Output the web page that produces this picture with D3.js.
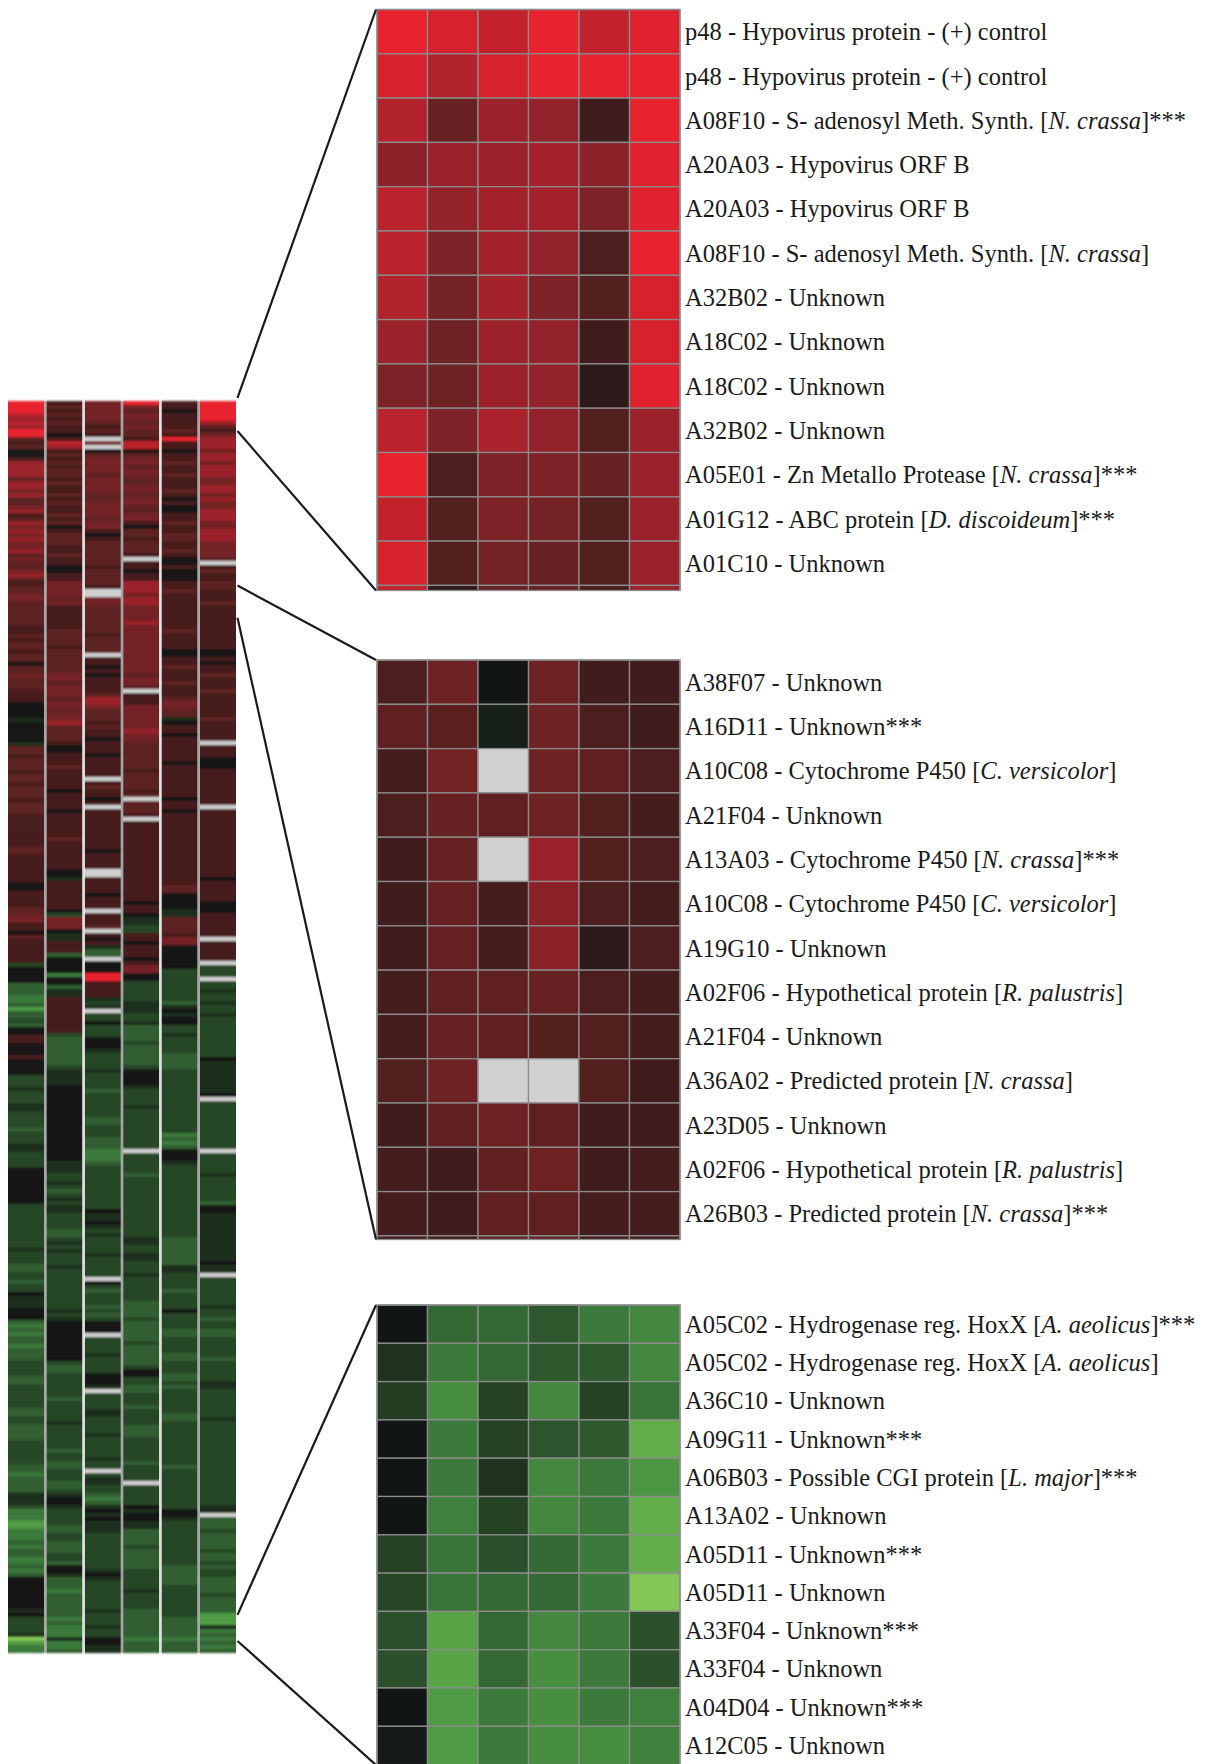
<!DOCTYPE html>
<html>
<head>
<meta charset="utf-8">
<script src="https://cdn.jsdelivr.net/npm/d3@7"></script>
<style>
  body { margin: 0; background: #ffffff; }
  svg { display: block; }
</style>
</head>
<body>
<script>
// ---------------------------------------------------------------------------
// Expression levels (log ratio). Overview columns are coded one character per
// clone: a..m map onto levelValues, "." marks a spot with no data.
// ---------------------------------------------------------------------------
const levelCodes  = "abcdefghijklm";
const levelValues = [-3, -2.5, -2, -1.5, -1, -0.5, 0, 0.9, 1.25, 1.6, 2.1, 2.5, 3];

const conditions = ["1", "2", "3", "4", "5", "6"];

const overviewCol1 = [
  "mmmlklkmmihigghkkkkikkjkiijkhikjkjkjjkijiijkihiijji",
  "iiiiihhihiihiigiijiiihhhggggfgggggfiihiiihiihiiihiiih",
  "hhhhhhhiihhhhhhhgghhhhiijjhhgihhhhhheggggdddccdbdded",
  "gghhggghggggeeefeeeffeeeedeeeffeeeegggggggggeeeeeeee",
  "eeefeeeddeedeegfffgggdcdcddcdddeeeeddeeeeeeddeedddde",
  "eeeeeddcddddfffecccbbcccdcddccdcdggggggggfgeeeefabcc"
];
const overviewCol2 = [
  "hihihihhghlkhihihiihihhihihhihighiiihhihhgghhjjjjij",
  "hhhhhhiiiihiiiiiijjijjjijjijjkiiiihgghhhihhhhhghhhhgh",
  "hhhhhihhhhhhhggfhhhhhhhgejjjgffhhhdggggcggdffhhhhhhh",
  "hheddddddde" + "ffffggggggggggggggggggg" + "fffeefedefeffeeeedd",
  "efefeeefeeeeeeeeeefefggggggggggeddeeeeeedeeeeefeeeee",
  "edeeddeeeddefggfeeeeddeedddeedggfdddcddddddcdcccfccd"
];
const overviewCol3 = [
  "jjjjjihih.j.gijjjjijjjjiijjjjijjhghiiiiiihiiiih..jj",
  "iiiiiiihiiii.hhghghhhhikkjiiihihhghhhghhhhh.hihhgh.hh",
  "hhhhhhhhghhhh..hhhhghhh.hhhi.hghfdd.gggmmhhhhfef.eeg",
  "eeegggfeeeefeeeedeeeeeeddeeedddcccdeeeeeeeeeeegffgfef",
  "eeeefeeeee.gedeeededeggg.eeeefeeeegggf.eeeeffeeeefee",
  "eeefee.effeedcdfgfgfffeeeeeeeeefgfeeeeeeefeeefeeggff"
];
const overviewCol4 = [
  "mjijjijiihllgijjijjiijjijjiijjhgiihiiih.hhghhkkkjkk",
  "jjjjkjjjjjjjjjjjjijji.hhhjjjjjjkjjiiiiiiihiiiihi.iiih",
  ".hhhhhhhhhhhhhhhhhhhhghhgffeehhghhhghjjggeeeeefffeef",
  "ddddeddddde" + "ggggfeeeefeeeeeeeeee.eeeeedeeeeeeeeeeeeeee",
  "ffeeffeeefeeeeeeddddedddddedddddeggeeddeeedeeeedddee",
  "eeeedeeee.eeeeegfggffddddeddddde" + "eeeefeeeedddddddcddd"
];
const overviewCol5 = [
  "hhghhhhihmhhghhihhihhhihghgghhihhiihhihgghggghhihhh",
  "hhhhhhihhhhgghhihhhihhhijjiifghhghhhhhhghhhhhhhhghhgh",
  "hhhhhhhhhhhhhhhhhiiggggffiiiihjjggggggeeeeeeeedfgfgg",
  "eefeeeeddddeeeeeeeeeeeeeeeecdcdgggfeeeeeeeeeeeeeeeeee",
  "ddddddd" + "ffeeeedeeeegeeeeddeeeeddeeeddedeeeeeeddeeeeee",
  "eeeeedeeeeeeeeeeggfeeeeeeeeeeedddddeeeeeeeedddddcddd"
];
const overviewCol6 = [
  "mmmmmkihjkkkjkkjkkkjjkkjkjjkkkjjkkkjjjji.hihhiihhhi",
  "hhhhhhhhhhhgghghhihhhihhhhhhihhhhh.hhhggghhhhhhhhh.hh",
  "hhhhhhhhhhhhhhhghhhhhggghhhhhh.hhhhh.eee.eefeefeefee",
  "eeeeeeeegffffffffg.eeeeeeeeeeee.eeeeefeeeeeedggffffff",
  "ffffffgff.eeeeeeefeedeeddeeeeedeeeeeffeeeeeeefeeeeee",
  "eeeeeeeeeeeeeeeff.dddeddddeddedeeddddeddddbbbfcdcdcd"
];

// ---------------------------------------------------------------------------
// Selected clones (rows) shown enlarged; null = no data.
// ---------------------------------------------------------------------------
const upregulatedLabels = [
  "p48 - Hypovirus protein - (+) control",
  "p48 - Hypovirus protein - (+) control",
  "A08F10 - S- adenosyl Meth. Synth. [_N. crassa_]***",
  "A20A03 - Hypovirus ORF B",
  "A20A03 - Hypovirus ORF B",
  "A08F10 - S- adenosyl Meth. Synth. [_N. crassa_]",
  "A32B02 - Unknown",
  "A18C02 - Unknown",
  "A18C02 - Unknown",
  "A32B02 - Unknown",
  "A05E01 - Zn Metallo Protease [_N. crassa_]***",
  "A01G12 - ABC protein [_D. discoideum_]***",
  "A01C10 - Unknown"
];
const upregulatedValues = [
  [3.0, 2.8, 2.6, 3.0, 2.6, 2.9],
  [2.8, 2.4, 2.8, 3.0, 3.0, 3.0],
  [2.4, 1.4, 2.1, 2.0, 0.8, 3.0],
  [1.9, 2.1, 2.1, 2.2, 1.9, 2.9],
  [2.5, 2.0, 2.2, 2.2, 1.7, 2.9],
  [2.5, 1.7, 2.2, 2.0, 1.0, 3.0],
  [2.4, 1.6, 2.2, 1.7, 1.1, 2.8],
  [2.1, 1.5, 2.1, 2.0, 0.8, 2.8],
  [1.7, 1.5, 2.1, 2.0, 0.5, 2.9],
  [2.5, 1.7, 2.3, 2.0, 1.1, 2.1],
  [3.0, 1.0, 1.7, 1.7, 1.4, 2.1],
  [2.6, 1.1, 1.7, 1.6, 1.1, 2.1],
  [2.8, 1.1, 1.6, 1.4, 1.1, 2.1],
  [2.6, 0.5, 1.4, 1.4, 1.0, 2.1]
];

const moderateLabels = [
  "A38F07 - Unknown",
  "A16D11 - Unknown***",
  "A10C08 - Cytochrome P450 [_C. versicolor_]",
  "A21F04 - Unknown",
  "A13A03 - Cytochrome P450 [_N. crassa_]***",
  "A10C08 - Cytochrome P450 [_C. versicolor_]",
  "A19G10 - Unknown",
  "A02F06 - Hypothetical protein [_R. palustris_]",
  "A21F04 - Unknown",
  "A36A02 - Predicted protein [_N. crassa_]",
  "A23D05 - Unknown",
  "A02F06 - Hypothetical protein [_R. palustris_]",
  "A26B03 - Predicted protein [_N. crassa_]***"
];
const moderateValues = [
  [1.0, 1.5, 0.0, 1.5, 0.8, 0.8],
  [1.3, 1.2, -0.2, 1.5, 1.0, 0.8],
  [0.9, 1.6, null, 1.5, 1.3, 1.0],
  [1.0, 1.4, 1.3, 1.5, 1.1, 0.9],
  [0.8, 1.4, null, 2.1, 1.1, 1.0],
  [0.8, 1.4, 0.9, 1.9, 1.0, 0.9],
  [0.8, 1.4, 0.9, 1.9, 0.5, 1.0],
  [0.9, 1.3, 1.3, 1.4, 1.0, 0.9],
  [0.9, 1.4, 1.3, 1.1, 1.1, 0.9],
  [1.1, 1.5, null, null, 1.1, 0.8],
  [0.8, 1.3, 1.5, 1.3, 0.8, 0.8],
  [0.9, 0.8, 1.3, 1.5, 0.8, 0.9],
  [0.9, 0.8, 1.3, 1.3, 0.9, 0.9],
  [0.9, 0.8, 1.3, 1.3, 0.9, 0.9]
];

const downregulatedLabels = [
  "A05C02 - Hydrogenase reg. HoxX [_A. aeolicus_]***",
  "A05C02 - Hydrogenase reg. HoxX [_A. aeolicus_]",
  "A36C10 - Unknown",
  "A09G11 - Unknown***",
  "A06B03 - Possible CGI protein [_L. major_]***",
  "A13A02 - Unknown",
  "A05D11 - Unknown***",
  "A05D11 - Unknown",
  "A33F04 - Unknown***",
  "A33F04 - Unknown",
  "A04D04 - Unknown***",
  "A12C05 - Unknown"
];
const downregulatedValues = [
  [0.0, -1.7, -1.7, -1.4, -2.0, -2.2],
  [-0.6, -2.0, -1.7, -1.4, -1.4, -2.2],
  [-0.8, -2.3, -0.9, -2.2, -0.9, -1.9],
  [0.0, -2.0, -0.9, -1.3, -1.4, -2.7],
  [0.0, -2.0, -0.6, -2.2, -2.0, -2.4],
  [0.0, -2.1, -0.9, -2.2, -2.0, -2.7],
  [-0.9, -1.9, -1.2, -1.7, -2.0, -2.7],
  [-1.0, -1.9, -1.7, -1.7, -2.0, -3.0],
  [-1.2, -2.6, -1.7, -2.2, -2.0, -1.2],
  [-1.2, -2.6, -1.7, -2.3, -2.0, -1.2],
  [0.0, -2.5, -2.0, -2.3, -2.0, -2.1],
  [-0.1, -2.5, -2.0, -2.3, -2.3, -2.1]
];

// ---------------------------------------------------------------------------
// Drawing
// ---------------------------------------------------------------------------
const W = 1210, H = 1764;
const svg = d3.select("body").append("svg")
  .attr("width", W).attr("height", H)
  .attr("viewBox", [0, 0, W, H]);

const color = d3.scaleLinear()
  .domain([-3, -2.5, -2, -1.5, -1, -0.5, 0, 0.5, 1, 1.5, 2, 2.5, 3])
  .range(["#84c654", "#4f9c45", "#3b7a3a", "#305e31", "#284727", "#1c2d1c", "#121515",
          "#2e1a1a", "#4c1e1e", "#6e2224", "#93222a", "#ba222c", "#e8222e"])
  .clamp(true);
const missingFill = "#d0d0d0";
const fillOf = v => v === null ? missingFill : color(v);

const defs = svg.append("defs");
// the overview strip is printed small and slightly smeared between rows
defs.append("filter").attr("id", "soft")
  .attr("x", "-2%").attr("y", "-1%").attr("width", "104%").attr("height", "102%")
  .append("feGaussianBlur").attr("stdDeviation", "0.4 0.8");

// --- overview of all clones --------------------------------------------------
const ov = { x0: 8, x1: 236, y0: 401, y1: 1653 };
const overviewCols = [overviewCol1, overviewCol2, overviewCol3, overviewCol4, overviewCol5, overviewCol6]
  .map(chunks => Array.from(chunks.join("")).map(ch =>
    ch === "." ? null : levelValues[levelCodes.indexOf(ch)]));

const xO = d3.scaleBand().domain(d3.range(conditions.length))
  .range([ov.x0, ov.x1]).paddingInner(0.06);
const overview = svg.append("g").attr("class", "overview");
const strips = overview.append("g").attr("filter", "url(#soft)");

overviewCols.forEach((vals, ci) => {
  const yO = d3.scaleBand().domain(d3.range(vals.length)).range([ov.y0, ov.y1]);
  strips.append("g")
    .selectAll("rect")
    .data(vals)
    .join("rect")
    .attr("x", xO(ci))
    .attr("width", xO.bandwidth())
    .attr("y", (d, i) => yO(i))
    .attr("height", (d, i) => i === vals.length - 1 ? yO.bandwidth() : yO.bandwidth() + 0.6)
    .attr("fill", fillOf);
});

const gap = xO.step() - xO.bandwidth();
const sepColors = ["#a4a4a4", "#dedede", "#a4a4a4", "#dedede", "#a4a4a4"];
overview.append("g")
  .selectAll("line")
  .data(d3.range(1, conditions.length))
  .join("line")
  .attr("x1", i => xO(i) - gap / 2).attr("x2", i => xO(i) - gap / 2)
  .attr("y1", ov.y0).attr("y2", ov.y1)
  .attr("stroke", (i) => sepColors[i - 1])
  .attr("stroke-width", gap);

// overview row position (fractional clone index) for the zoom connectors
const yRow = d3.scaleLinear().domain([0, overviewCols[0].length]).range([ov.y0, ov.y1]);

// --- enlarged panels -----------------------------------------------------------
const panelX = d3.scaleBand().domain(conditions).range([377, 680]);
const panels = [
  { id: "up",   labels: upregulatedLabels,   values: upregulatedValues,   top: 9.5,  rowH: 44.3, shownH: 581,   link: [-0.8, 7.5] },
  { id: "mid",  labels: moderateLabels,      values: moderateValues,      top: 660,  rowH: 44.3, shownH: 579.5, link: [46, 54] },
  { id: "down", labels: downregulatedLabels, values: downregulatedValues, top: 1305, rowH: 38.3, shownH: 460,   link: [302.5, 309] }
];

panels.forEach(p => {
  const yP = d3.scaleBand().domain(d3.range(p.values.length))
    .range([p.top, p.top + p.values.length * p.rowH]);

  defs.append("clipPath").attr("id", "clip-" + p.id)
    .append("rect")
    .attr("x", panelX.range()[0] - 2).attr("y", p.top - 2)
    .attr("width", panelX.range()[1] - panelX.range()[0] + 4)
    .attr("height", p.shownH + 2);

  const g = svg.append("g").attr("class", "panel-" + p.id);

  const cells = g.append("g").attr("clip-path", `url(#clip-${p.id})`);
  cells.selectAll("g")
    .data(p.values)
    .join("g")
    .attr("transform", (d, i) => `translate(0,${yP(i)})`)
    .selectAll("rect")
    .data(row => row.map((v, j) => ({ v, c: conditions[j] })))
    .join("rect")
    .attr("x", d => panelX(d.c))
    .attr("width", panelX.bandwidth())
    .attr("y", 0)
    .attr("height", yP.bandwidth())
    .attr("fill", d => fillOf(d.v))
    .attr("stroke", "#8c8c8c")
    .attr("stroke-width", 1.3);

  g.append("rect")
    .attr("x", panelX.range()[0]).attr("y", p.top)
    .attr("width", panelX.range()[1] - panelX.range()[0])
    .attr("height", p.shownH)
    .attr("fill", "none")
    .attr("stroke", "#8c8c8c")
    .attr("stroke-width", 1.3);

  // row labels, with species names set in italics
  const text = g.append("g")
    .selectAll("text")
    .data(p.labels)
    .join("text")
    .attr("x", panelX.range()[1] + 5)
    .attr("y", (d, i) => yP(i) + yP.bandwidth() / 2)
    .attr("dy", "0.35em")
    .attr("font-family", "'Liberation Serif', 'Times New Roman', serif")
    .attr("font-size", 24.5)
    .attr("fill", "#1a1a1a");
  text.selectAll("tspan")
    .data(d => d.split("_").map((s, k) => ({ s, italic: k % 2 === 1 })))
    .join("tspan")
    .attr("font-style", d => d.italic ? "italic" : null)
    .text(d => d.s);

  // connectors from the overview to the enlarged panel
  const xa = ov.x1 + 1.5, xb = panelX.range()[0] - 1;
  g.append("g")
    .selectAll("line")
    .data([[yRow(p.link[0]), p.top], [yRow(p.link[1]), p.top + p.shownH]])
    .join("line")
    .attr("x1", xa).attr("y1", d => d[0])
    .attr("x2", xb).attr("y2", d => d[1])
    .attr("stroke", "#1a1a1a")
    .attr("stroke-width", 2.2);
});
</script>
</body>
</html>
